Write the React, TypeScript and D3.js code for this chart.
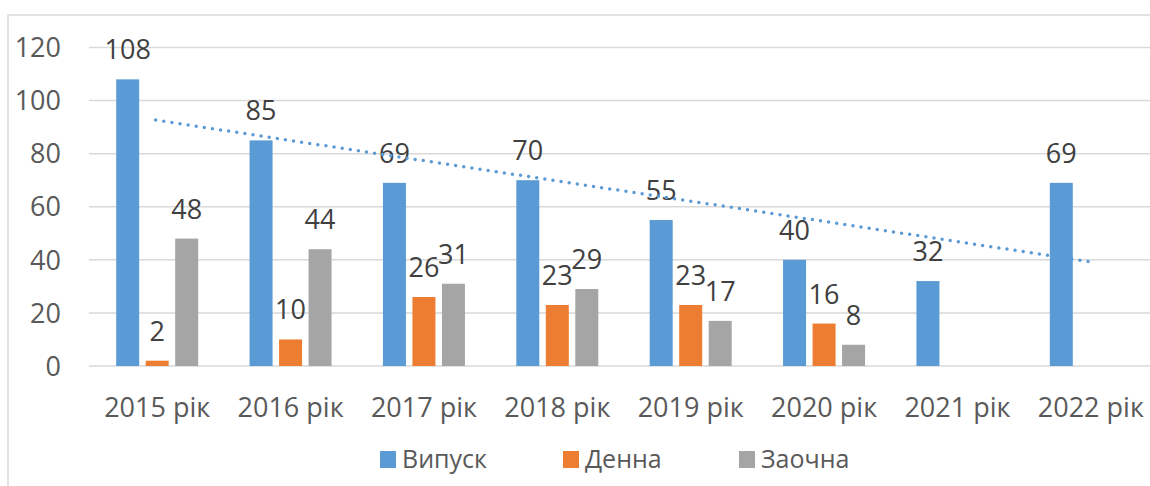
import * as d3 from "d3";

const categories = ["2015 рік", "2016 рік", "2017 рік", "2018 рік", "2019 рік", "2020 рік", "2021 рік", "2022 рік"];
const seriesNames = ["Випуск", "Денна", "Заочна"];
const vypusk = [108, 85, 69, 70, 55, 40, 32, 69];
const denna: (number | null)[] = [2, 10, 26, 23, 23, 16, null, null];
const zaochna: (number | null)[] = [48, 44, 31, 29, 17, 8, null, null];
const yTicks = [0, 20, 40, 60, 80, 100, 120];

const colors = ["#5B9BD5", "#ED7D31", "#A5A5A5"];
const font = "'Open Sans', 'Segoe UI', sans-serif";

const W = 1150;
const H = 486;
const plot = { left: 89, right: 1156, top: 47.5, bottom: 366 };

export default function App() {
  const x = d3.scaleBand<string>().domain(categories).range([plot.left, plot.right]);
  const y = d3.scaleLinear().domain([0, 120]).range([plot.bottom, plot.top]);
  const barW = 23;
  const gap = 6.5;
  const all = [vypusk, denna, zaochna];
  const offset = (i: number) => (i - 1) * (barW + gap) - barW / 2;

  // linear trend of Випуск
  const xs = vypusk.map((_, i) => i + 1);
  const mx = d3.mean(xs)!;
  const my = d3.mean(vypusk)!;
  const slope = d3.sum(xs, (v, i) => (v - mx) * (vypusk[i] - my)) / d3.sum(xs, (v) => (v - mx) * (v - mx));
  const trend = xs.map((v, i) => [x(categories[i])! + x.bandwidth() / 2, y(my + slope * (v - mx))] as [number, number]);
  const trendPath = d3.line()([trend[0], trend[trend.length - 1]]);

  const legendItems = [
    { name: seriesNames[0], x: 380 },
    { name: seriesNames[1], x: 563 },
    { name: seriesNames[2], x: 739 },
  ];

  return (
    <svg width={W} height={H} style={{ position: "absolute", left: 0, top: 0 }} fontFamily={font}>
      <rect x={0} y={0} width={W} height={H} fill="#fff" />
      <rect x={8} y={15} width={1160} height={500} fill="none" stroke="#d9d9d9" strokeWidth={1.5} />
      {yTicks.map((t) => (
        <g key={t}>
          <line x1={plot.left} x2={plot.right} y1={y(t)} y2={y(t)} stroke="#d9d9d9" strokeWidth={1.5} />
          <text x={61} y={y(t)} dy="0.36em" textAnchor="end" fontSize={27} fill="#595959">
            {t}
          </text>
        </g>
      ))}
      {all.map((vals, si) =>
        vals.map((v, ci) => {
          if (v == null) return null;
          const cx = x(categories[ci])! + x.bandwidth() / 2 + 1.5;
          const bx = cx + offset(si);
          return (
            <g key={`${si}-${ci}`}>
              <rect x={bx} y={y(v)} width={barW} height={y(0) - y(v)} fill={colors[si]} />
              <text x={bx + barW / 2} y={y(v) - 20} textAnchor="middle" fontSize={27} fill="#404040">
                {v}
              </text>
            </g>
          );
        })
      )}
      <path d={trendPath ?? ""} fill="none" stroke="#5B9BD5" strokeWidth={3.5} strokeLinecap="round" strokeDasharray="0 8.2" />
      {categories.map((c) => (
        <text key={c} x={x(c)! + x.bandwidth() / 2 + 1.5} y={417} textAnchor="middle" fontSize={27} fill="#595959">
          {c}
        </text>
      ))}
      {legendItems.map((l, i) => (
        <g key={l.name}>
          <rect x={l.x} y={451} width={16} height={17} fill={colors[i]} />
          <text x={l.x + 22} y={468} fontSize={25} fill="#595959">
            {l.name}
          </text>
        </g>
      ))}
    </svg>
  );
}
